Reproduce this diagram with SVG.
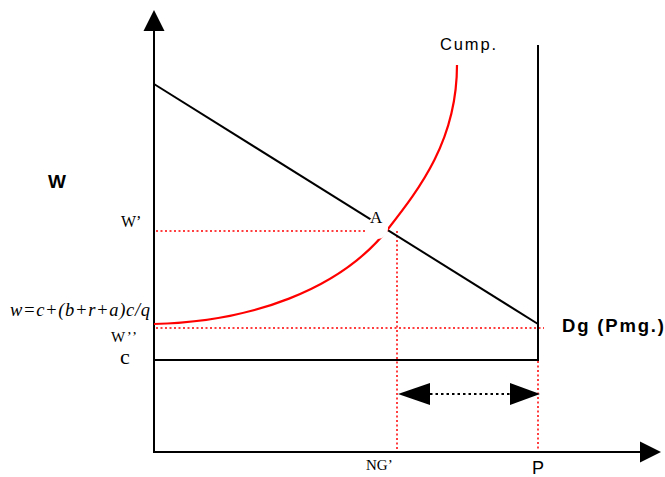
<svg xmlns="http://www.w3.org/2000/svg" width="665" height="477" viewBox="0 0 665 477">
<style>
.ax{stroke:#000;stroke-width:2;fill:none}
.bl{stroke:#000;stroke-width:2;fill:none}
.red{stroke:#f00;stroke-width:2.2;fill:none}
.dot{stroke:#f00;stroke-width:1.5;stroke-dasharray:2 2.5;fill:none}
.bdot{stroke:#000;stroke-width:2;stroke-dasharray:2.5 3;fill:none}
.serif{font-family:"Liberation Serif",serif;fill:#000}
.sans{font-family:"Liberation Sans",Arial,sans-serif;fill:#000}
</style>
<rect width="665" height="477" fill="#fff"/>
<g id="connectors">
<line class="ax" x1="154" y1="452" x2="154" y2="28"/>
<polygon points="154,10 143.5,31 164.5,31" fill="#000"/>
<line class="ax" x1="153" y1="452" x2="642" y2="452"/>
<polygon points="661,452 640,441.5 640,462.5" fill="#000"/>
<line class="dot" x1="156" y1="231" x2="365" y2="231"/>
<line class="dot" x1="397" y1="231" x2="397" y2="451"/>
<line class="dot" x1="156" y1="328" x2="544" y2="328"/>
<line class="dot" x1="538" y1="361" x2="538" y2="451"/>
<line class="bl" x1="154" y1="84" x2="538" y2="324"/>
<line class="bl" x1="538" y1="45" x2="538" y2="361"/>
<line class="bl" x1="154" y1="360" x2="539" y2="360"/>
<path class="red" d="M154,324 C250,322 340,290 388,229 C420,188 457,140 457,65"/>
<circle cx="377" cy="228" r="11" fill="#fff"/>
<line class="bdot" x1="430" y1="394" x2="510" y2="394"/>
<polygon points="398,394 430,383 430,405" fill="#000"/>
<polygon points="540,394 510,383 510,405" fill="#000"/>
</g>
<g id="labels">
<text class="serif" x="370" y="223" font-size="17">A</text>
<text class="sans" x="440" y="50" font-size="16.5" textLength="56" lengthAdjust="spacing">Cump.</text>
<text class="sans" x="48" y="188" font-size="19" font-weight="bold">W</text>
<text class="serif" x="121" y="227" font-size="16">W’</text>
<text class="serif" x="10" y="316" font-size="18.5" font-style="italic" textLength="140" lengthAdjust="spacing">w=c+(b+r+a)c/q</text>
<text class="serif" x="111" y="342" font-size="15" textLength="26" lengthAdjust="spacing">W’’</text>
<text class="serif" x="120" y="364" font-size="22">c</text>
<text class="sans" x="562" y="332" font-size="18.5" font-weight="bold" textLength="102" lengthAdjust="spacing">Dg (Pmg.)</text>
<text class="serif" x="366" y="470" font-size="15">NG’</text>
<text class="sans" x="532" y="474" font-size="18">P</text>
</g>
</svg>
